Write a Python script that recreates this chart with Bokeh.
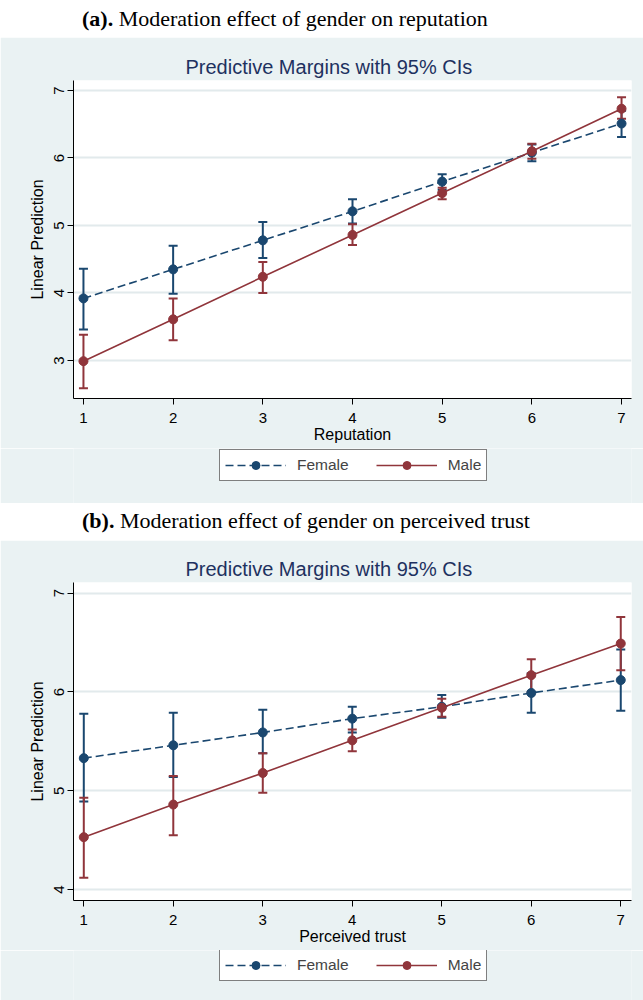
from bokeh.plotting import figure
from bokeh.models import (ColumnDataSource, Whisker, TeeHead, Legend, LegendItem,
                          FixedTicker, Div)
from bokeh.layouts import column
from bokeh.embed import file_html
from bokeh.resources import INLINE

# ---------------- data ----------------
levels = [1, 2, 3, 4, 5, 6, 7]
y_ticks_a = [3, 4, 5, 6, 7]
y_ticks_b = [4, 5, 6, 7]

# (a) reputation
rep_female = [3.92, 4.35, 4.78, 5.21, 5.65, 6.08, 6.51]
rep_female_lo = [3.46, 3.99, 4.52, 5.03, 5.53, 5.95, 6.31]
rep_female_hi = [4.36, 4.70, 5.05, 5.39, 5.76, 6.20, 6.70]
rep_male = [2.99, 3.61, 4.24, 4.86, 5.48, 6.10, 6.73]
rep_male_lo = [2.59, 3.30, 4.00, 4.71, 5.39, 5.99, 6.58]
rep_male_hi = [3.38, 3.92, 4.46, 5.02, 5.56, 6.21, 6.90]

# (b) perceived trust
tr_female = [5.33, 5.46, 5.59, 5.73, 5.85, 5.99, 6.12]
tr_female_lo = [4.89, 5.14, 5.38, 5.59, 5.74, 5.79, 5.81]
tr_female_hi = [5.78, 5.79, 5.82, 5.85, 5.97, 6.19, 6.43]
tr_male = [4.53, 4.86, 5.18, 5.51, 5.84, 6.17, 6.49]
tr_male_lo = [4.12, 4.55, 4.98, 5.40, 5.75, 6.00, 6.22]
tr_male_hi = [4.93, 5.15, 5.38, 5.62, 5.93, 6.33, 6.76]

series_names = ["Female", "Male"]

NAVY = "#1a476f"
MAROON = "#90353b"
BG = "#eaf2f3"
GRID = "#e2eaec"
TITLE_C = "#1e3160"
SANS = "Liberation Sans"
DASHES = ["8 4", "solid"]
COLORS = [NAVY, MAROON]


def make_sources(series):
    return [ColumnDataSource(dict(x=levels, y=mid, lo=lo, hi=hi)) for mid, lo, hi in series]


def panel(height, yr, xr, yticks, xlabel, sources, min_top, min_bottom, min_right):
    p = figure(width=643, height=height, x_range=xr, y_range=yr,
               output_backend="svg", toolbar_location=None,
               min_border_left=73, min_border_right=min_right,
               min_border_top=min_top, min_border_bottom=min_bottom,
               border_fill_color=BG, background_fill_color="white",
               outline_line_color=None, title="Predictive Margins with 95% CIs")
    p.title.align = "left"
    p.title.offset = 112
    p.title.text_font = SANS
    p.title.text_font_size = "20px"
    p.title.text_font_style = "normal"
    p.title.text_color = TITLE_C
    p.title.standoff = 6

    p.xgrid.visible = False
    p.ygrid.grid_line_color = GRID
    p.ygrid.grid_line_width = 2
    p.ygrid.ticker = FixedTicker(ticks=yticks)

    p.xaxis.ticker = FixedTicker(ticks=levels)
    p.yaxis.ticker = FixedTicker(ticks=yticks)
    for ax in (p.xaxis[0], p.yaxis[0]):
        ax.axis_line_color = "black"
        ax.axis_line_width = 1
        ax.major_tick_line_color = "black"
        ax.major_tick_out = 6
        ax.major_tick_in = 0
        ax.minor_tick_line_color = None
        ax.major_label_text_font = SANS
        ax.major_label_text_font_size = "15px"
        ax.major_label_text_color = "black"
        ax.axis_label_text_font = SANS
        ax.axis_label_text_font_size = "16px"
        ax.axis_label_text_font_style = "normal"
        ax.axis_label_text_color = "black"
    p.xaxis.axis_label = xlabel
    p.xaxis.major_label_standoff = 8
    p.xaxis.axis_label_standoff = 0
    p.yaxis.axis_label = "Linear Prediction"
    p.yaxis.major_label_orientation = "vertical"
    p.yaxis.major_label_standoff = 3
    p.yaxis.axis_label_standoff = 6

    for src, color, dash in zip(sources, COLORS, DASHES):
        w = Whisker(source=src, base="x", upper="hi", lower="lo",
                    line_color=color, line_width=2,
                    upper_head=TeeHead(size=9, line_color=color, line_width=2),
                    lower_head=TeeHead(size=9, line_color=color, line_width=2))
        p.add_layout(w)
        p.line("x", "y", source=src, line_color=color, line_width=1.6, line_dash=dash)
        p.scatter("x", "y", source=src, size=9, marker="circle",
                  fill_color=color, line_color=color)
    return p


def legend_panel(height, legend_y, sources):
    # the series are drawn again here only to feed the legend; the y range keeps
    # them out of view, the legend box is all that shows
    q = figure(width=643, height=height, x_range=(0, 1), y_range=(100, 101),
               output_backend="svg", toolbar_location=None,
               x_axis_location=None, y_axis_location=None,
               min_border=0, min_border_left=0, min_border_right=0,
               min_border_top=0, min_border_bottom=0,
               border_fill_color=BG, background_fill_color=BG,
               outline_line_color=None)
    q.grid.visible = False
    items = []
    for name, src, color, dash in zip(series_names, sources, COLORS, DASHES):
        ln = q.line("x", "y", source=src, line_color=color, line_width=1.6, line_dash=dash)
        pt = q.scatter("x", "y", source=src, size=9, marker="circle",
                       fill_color=color, line_color=color)
        items.append(LegendItem(label=name, renderers=[ln, pt]))
    legend = Legend(items=items, orientation="horizontal", location=(146, legend_y),
                    border_line_color="black", border_line_width=1,
                    background_fill_color="white", background_fill_alpha=1,
                    label_text_font=SANS, label_text_font_size="15.5px",
                    glyph_width=61, glyph_height=20, label_height=20,
                    label_standoff=11, spacing=27, padding=5, margin=0)
    q.add_layout(legend)
    return q


src_a = make_sources([(rep_female, rep_female_lo, rep_female_hi),
                      (rep_male, rep_male_lo, rep_male_hi)])
src_b = make_sources([(tr_female, tr_female_lo, tr_female_hi),
                      (tr_male, tr_male_lo, tr_male_hi)])

fig_a = panel(411, (2.437, 7.148), (0.889, 7.111), y_ticks_a, "Reputation",
              src_a, 43, 50, 10)
leg_a = legend_panel(55, 22, src_a)
fig_b = panel(410, (3.889, 7.108), (0.885, 7.12), y_ticks_b, "Perceived trust",
              src_b, 42, 50, 12)
leg_b = legend_panel(50, 19, src_b)

head_style = ("font-family:'Liberation Serif';font-size:22px;line-height:22px;"
              "color:black;padding-left:82px;white-space:nowrap;")
div_a = Div(text=f"<div style=\"{head_style}padding-top:8px\"><b>(a).</b> Moderation effect of gender on reputation</div>",
            width=643, height=37, margin=0)
div_b = Div(text=f"<div style=\"{head_style}padding-top:7px\"><b>(b).</b> Moderation effect of gender on perceived trust</div>",
            width=643, height=37, margin=0)

layout = column(div_a, fig_a, leg_a, div_b, fig_b, leg_b, spacing=0)
open("out.html", "w").write(file_html(layout, INLINE))
